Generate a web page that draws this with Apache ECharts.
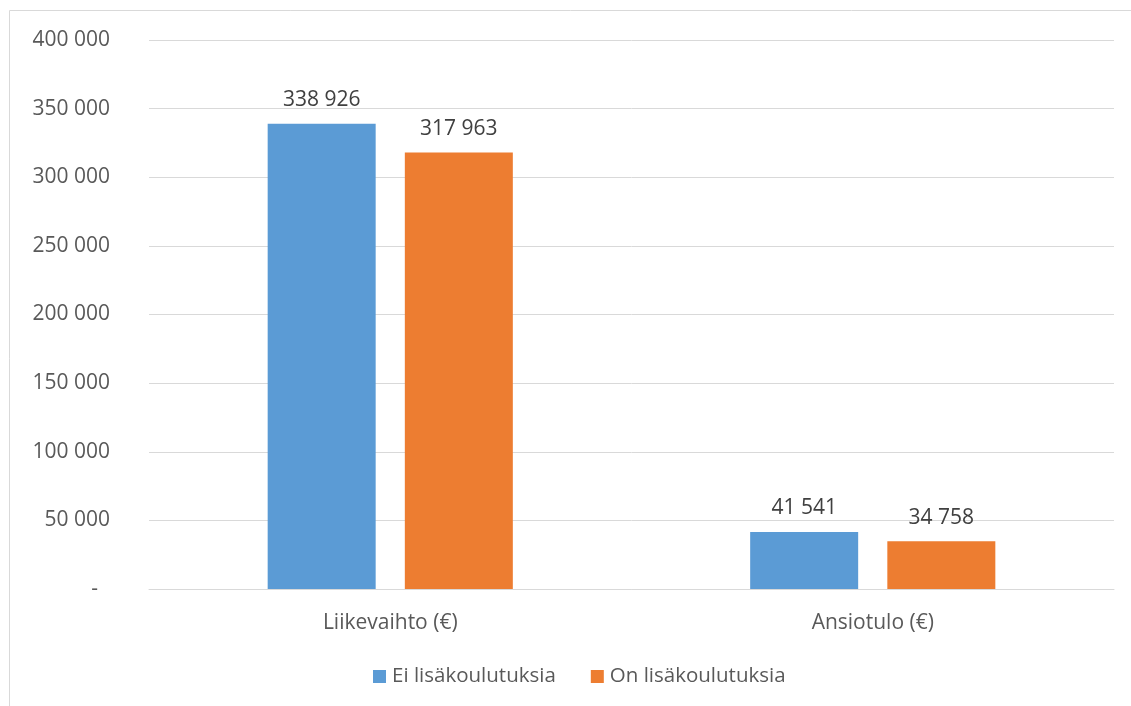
<!DOCTYPE html>
<html>
<head>
<meta charset="utf-8">
<script src="https://cdn.jsdelivr.net/npm/echarts@6/dist/echarts.min.js"></script>
<style>html,body{margin:0;padding:0;background:#fff}#c{width:1131px;height:706px}</style>
</head>
<body>
<div id="c"></div>
<script>
var categories = ['Liikevaihto (€)', 'Ansiotulo (€)'];
var seriesNames = ['Ei lisäkoulutuksia', 'On lisäkoulutuksia'];
var eiValues = [338926, 41541];
var onValues = [317963, 34758];
var yTicks = [0, 50000, 100000, 150000, 200000, 250000, 300000, 350000, 400000];

function fmt(v) {
  return String(Math.round(v)).replace(/\B(?=(\d{3})+(?!\d))/g, ' ');
}
var FONT = '"Open Sans", sans-serif';
var FS = 21;
var chart = echarts.init(document.getElementById('c'));
chart.setOption({
  animation: false,
  textStyle: { fontFamily: FONT },
  graphic: [{
    type: 'rect', silent: true, z: -1,
    shape: { x: 9.5, y: 10.5, width: 1300, height: 900 },
    style: { fill: 'none', stroke: '#D9D9D9', lineWidth: 1 }
  }],
  grid: { left: 149, right: 17, top: 40, bottom: 117, containLabel: false },
  legend: {
    left: 373, top: 666, padding: 0,
    itemWidth: 13, itemHeight: 13, itemGap: 35,
    icon: 'rect',
    textStyle: { color: '#595959', fontSize: 20.5, fontFamily: FONT, padding: [0, 0, 0, 1] },
    data: seriesNames
  },
  xAxis: {
    type: 'category', data: categories,
    axisLine: { lineStyle: { color: '#D9D9D9', width: 1 } },
    axisTick: { show: false },
    axisLabel: { color: '#595959', fontSize: FS, fontFamily: FONT, margin: 24 }
  },
  yAxis: {
    type: 'value', min: yTicks[0], max: yTicks[yTicks.length - 1], interval: yTicks[1] - yTicks[0],
    axisLine: { show: false }, axisTick: { show: false },
    splitLine: { lineStyle: { color: '#D9D9D9', width: 1 } },
    axisLabel: {
      color: '#595959', fontSize: FS, fontFamily: FONT, margin: 39,
      formatter: function (v) { return v === 0 ? '{z|-}' : fmt(v); },
      rich: { z: { color: '#595959', fontSize: FS, fontFamily: FONT, padding: [0, 12, 0, 0] } }
    }
  },
  series: [{
    name: seriesNames[0], type: 'bar', data: eiValues, barWidth: 108, barGap: '27%',
    itemStyle: { color: '#5B9BD5' },
    label: { show: true, position: 'top', distance: 13, color: '#404040', fontSize: FS, fontFamily: FONT,
      formatter: function (p) { return fmt(p.value); } }
  }, {
    name: seriesNames[1], type: 'bar', data: onValues, barWidth: 108, barGap: '27%',
    itemStyle: { color: '#ED7D31' },
    label: { show: true, position: 'top', distance: 13, color: '#404040', fontSize: FS, fontFamily: FONT,
      formatter: function (p) { return fmt(p.value); } }
  }]
});
</script>
</body>
</html>
